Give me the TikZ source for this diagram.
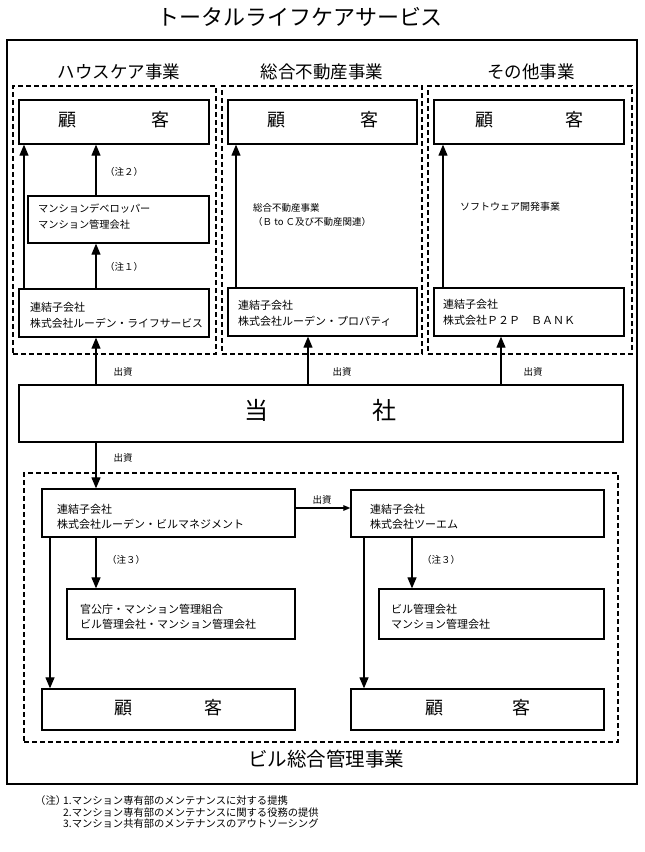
\documentclass[tikz,border=0pt]{standalone}
\usepackage{fontspec}
\setmainfont{Noto Sans CJK JP}
\usetikzlibrary{arrows.meta,fit}
\newcommand{\lowtxt}[1]{\raisebox{-0.62em}{#1}}
\begin{document}
\begin{tikzpicture}[x=1pt,y=-1pt,
  box/.style={draw, line width=1.3pt, inner sep=0pt},
  dbox/.style={draw, line width=1.1pt, dash pattern=on 5pt off 3pt, inner sep=0pt},
  arr/.style={line width=1.2pt, -{Triangle[length=11pt,width=9pt]}},
  sarr/.style={line width=1.2pt, -{Triangle[length=7pt,width=5.5pt]}},
  txt/.style={anchor=west, inner sep=0pt, font=\fontsize{11}{13}\selectfont},
  stxt/.style={anchor=west, inner sep=0pt, font=\fontsize{10.2}{12}\selectfont},
  lbl/.style={inner sep=0pt, font=\fontsize{9.5}{11}\selectfont},
  cust/.style={box, font=\fontsize{18}{20}\selectfont},
  head/.style={inner sep=0pt, font=\fontsize{17.5}{20}\selectfont},
  note/.style={anchor=west, inner sep=0pt, font=\fontsize{10.3}{11}\selectfont}]
\useasboundingbox (0,0) rectangle (645,852);

% title and outer frame
\node[inner sep=0pt, font=\fontsize{22}{24}\selectfont] (title) at (300,17) {トータルライフケアサービス};
\node[draw, line width=2.5pt, inner sep=0pt, fit={(7,40) (637,784)}] (outer) {};

% section headings
\node[head] (h1) at (119,72) {ハウスケア事業};
\node[head] (h2) at (322,72) {総合不動産事業};
\node[head] (h3) at (531,72) {その他事業};

% dashed sections
\node[dbox, fit={(13,86) (216,354)}] (d1) {};
\node[dbox, fit={(222,86) (422,354)}] (d2) {};
\node[dbox, fit={(428,86) (632,354)}] (d3) {};
\node[dbox, fit={(24,473) (618,742)}] (d4) {};
\node[inner sep=0pt, font=\fontsize{19.5}{22}\selectfont] (h4) at (326,759) {ビル総合管理事業};

% customers (top)
\node[cust, fit={(19,100) (209,144)}] (c1) {\lowtxt{顧\hspace{75pt}客}};
\node[cust, fit={(228,100) (417,144)}] (c2) {\lowtxt{顧\hspace{75pt}客}};
\node[cust, fit={(434,100) (624,144)}] (c3) {\lowtxt{顧\hspace{72pt}客}};

% developer box
\node[box, fit={(28,196) (209,243)}] (dev) {};
\node[stxt] (devt1) at (38,209) {マンションデベロッパー};
\node[stxt] (devt2) at (38,225) {マンション管理会社};

% subsidiaries (top)
\node[box, fit={(19,289) (209,337)}] (life) {};
\node[txt] (lifet1) at (30,307) {連結子会社};
\node[txt, font=\fontsize{10.8}{13}\selectfont] (lifet2) at (30,323) {株式会社ルーデン・ライフサービス};
\node[box, fit={(228,288) (417,336)}] (prop) {};
\node[txt] (propt1) at (238,305) {連結子会社};
\node[txt] (propt2) at (238,321) {株式会社ルーデン・プロパティ};
\node[box, fit={(434,288) (624,336)}] (p2p) {};
\node[txt] (p2pt1) at (443,304) {連結子会社};
\node[txt] (p2pt2) at (443,320) {株式会社Ｐ２Ｐ　ＢＡＮＫ};

% texts in top sections
\node[lbl] (n2) at (124,172) {（注２）};
\node[lbl] (n1) at (124,267) {（注１）};
\node[lbl, anchor=west] (re1) at (253,208) {総合不動産事業};
\node[lbl, anchor=west] (re2) at (253,222) {（Ｂ to Ｃ及び不動産関連）};
\node[lbl, anchor=west, font=\fontsize{10}{12}\selectfont] (sw) at (460,207) {ソフトウェア開発事業};

% company
\node[box, fit={(19,385) (623,442)}, font=\fontsize{24}{26}\selectfont] (tosha) {\lowtxt{当\hspace{104pt}社}};

% arrow x positions
\coordinate (x24) at (24,0);
\coordinate (x96) at (96,0);
\coordinate (x236) at (236,0);
\coordinate (x443) at (443,0);
\coordinate (x308) at (308,0);
\coordinate (x501) at (501,0);
\coordinate (x50) at (50,0);
\coordinate (x412) at (412,0);
\coordinate (x364) at (364,0);
\coordinate (y508) at (0,508);

% top arrows
\draw[arr] (life.north -| x24) -- (c1.south -| x24);
\draw[arr] (life.north -| x96) -- (dev.south -| x96);
\draw[arr] (dev.north -| x96) -- (c1.south -| x96);
\draw[arr] (prop.north -| x236) -- (c2.south -| x236);
\draw[arr] (p2p.north -| x443) -- (c3.south -| x443);

% investments from company
\draw[arr] (tosha.north -| x96) -- (life.south -| x96);
\draw[arr] (tosha.north -| x308) -- (prop.south -| x308);
\draw[arr] (tosha.north -| x501) -- (p2p.south -| x501);
\node[lbl] (inv1) at (123,372) {出資};
\node[lbl] (inv2) at (342,372) {出資};
\node[lbl] (inv3) at (533,372) {出資};

% building management
\node[box, fit={(42,489) (295,537)}] (bm) {};
\node[txt] (bmt1) at (57,509) {連結子会社};
\node[txt] (bmt2) at (57,524) {株式会社ルーデン・ビルマネジメント};
\node[box, fit={(351,490) (604,537)}] (tm) {};
\node[txt] (tmt1) at (370,509) {連結子会社};
\node[txt] (tmt2) at (370,524) {株式会社ツーエム};

\draw[arr] (tosha.south -| x96) -- (bm.north -| x96);
\node[lbl] (inv4) at (123,458) {出資};
\draw[sarr] (bm.east |- y508) -- (tm.west |- y508);
\node[lbl] (inv5) at (322,500) {出資};

\node[box, fit={(67,589) (295,639)}] (kan) {};
\node[txt] (kant1) at (80,609) {官公庁・マンション管理組合};
\node[txt] (kant2) at (80,624) {ビル管理会社・マンション管理会社};
\node[box, fit={(379,589) (604,639)}] (bk) {};
\node[txt] (bkt1) at (391,609) {ビル管理会社};
\node[txt] (bkt2) at (391,624) {マンション管理会社};

\node[cust, fit={(42,689) (295,730)}] (c4) {\lowtxt{顧\hspace{72pt}客}};
\node[cust, fit={(351,689) (604,730)}] (c5) {\lowtxt{顧\hspace{69pt}客}};

\draw[arr] (bm.south -| x96) -- (kan.north -| x96);
\draw[arr] (bm.south -| x50) -- (c4.north -| x50);
\draw[arr] (tm.south -| x412) -- (bk.north -| x412);
\draw[arr] (tm.south -| x364) -- (c5.north -| x364);
\node[lbl] (n3a) at (126,560) {（注３）};
\node[lbl] (n3b) at (441,560) {（注３）};

% footnotes
\node[note] (fn0) at (35,801) {（注）};
\node[note] (fn1) at (63,801) {1.マンション専有部のメンテナンスに対する提携};
\node[note] (fn2) at (63,813) {2.マンション専有部のメンテナンスに関する役務の提供};
\node[note] (fn3) at (63,824) {3.マンション共有部のメンテナンスのアウトソーシング};
\end{tikzpicture}
\end{document}
